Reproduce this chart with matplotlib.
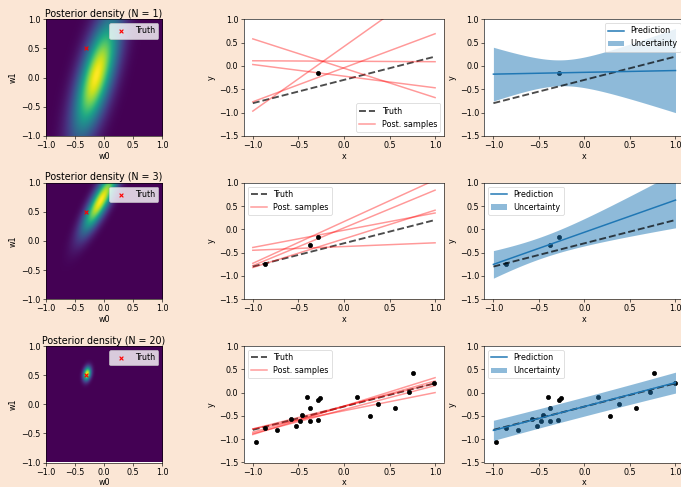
import numpy as np
import matplotlib.pyplot as plt

# model settings (prior precision, noise precision) and true weights
alpha = 2.0
beta = 25.0
w_true = [-0.3, 0.5]

# observed points, in the order they were added
x_data = [-0.28, -0.865, -0.378, -0.97, -0.73, -0.58, -0.525, -0.48, -0.46, -0.404,
          -0.375, -0.287, -0.26, 0.144, 0.283, 0.375, 0.561, 0.715, 0.762, 0.993]
t_data = [-0.16, -0.75, -0.335, -1.07, -0.81, -0.56, -0.71, -0.60, -0.49, -0.093,
          -0.62, -0.58, -0.11, -0.093, -0.50, -0.25, -0.32, 0.02, 0.43, 0.20]

n_obs = [1, 3, 20]

# posterior sample lines (intercept, slope)
sample_w0 = [
    [-0.05, 0.415, 0.10, -0.22, -0.04],
    [0.165, 0.03, -0.205, -0.02, -0.37],
    [-0.29, -0.30, -0.29, -0.365, -0.39],
]
sample_w1 = [
    [-0.63, 1.385, -0.01, -0.25, 0.73],
    [0.895, 0.81, 0.615, 0.37, 0.08],
    [0.61, 0.55, 0.49, 0.515, 0.39],
]

mid_legend_loc = ["lower right", "upper left", "upper left"]
right_legend_loc = ["upper right", "upper left", "upper left"]

W, H, DPI = 681, 487, 54
BG = "#fbe6d5"

plt.rcParams["font.size"] = 10.6
plt.rcParams["axes.titlesize"] = 12.7


def posterior(n):
    phi = np.column_stack([np.ones(n), np.array(x_data[:n])])
    t = np.array(t_data[:n])
    s_inv = alpha * np.eye(2) + beta * phi.T @ phi
    s = np.linalg.inv(s_inv)
    m = beta * s @ phi.T @ t
    return m, s


def rect(x, top, w, h):
    return [x / W, 1 - (top + h) / H, w / W, h / H]


fig = plt.figure(figsize=(W / DPI, H / DPI), dpi=DPI, facecolor=BG)

row_tops = [19.3, 182.7, 346.0]
hgt = 116.5
grid = np.linspace(-1, 1, 200)
g0, g1 = np.meshgrid(grid, grid)
xs = np.linspace(-1, 1, 100)

for i, n in enumerate(n_obs):
    top = row_tops[i]
    m, s = posterior(n)
    xd = x_data[:n]
    td = t_data[:n]

    # posterior density
    ax = fig.add_axes(rect(45.7, top, 116.5, hgt))
    d = np.stack([g0 - m[0], g1 - m[1]], axis=-1)
    s_inv = np.linalg.inv(s)
    dens = np.exp(-0.5 * np.einsum("...i,ij,...j->...", d, s_inv, d))
    dens /= 2 * np.pi * np.sqrt(np.linalg.det(s))
    ax.imshow(dens, origin="lower", extent=(-1, 1, -1, 1), cmap="viridis", aspect="auto")
    ax.scatter(w_true[0], w_true[1], c="r", marker="x", s=25, label="Truth")
    ax.set_xlim(-1, 1)
    ax.set_ylim(-1, 1)
    ax.set_xticks([-1, -0.5, 0, 0.5, 1])
    ax.set_yticks([-1, -0.5, 0, 0.5, 1])
    ax.set_xlabel("w0", labelpad=2)
    ax.set_ylabel("w1")
    ax.set_title(f"Posterior density (N = {n})", pad=3)
    ax.legend(loc="upper right")

    # posterior samples
    ax = fig.add_axes(rect(243.7, top, 200.5, hgt))
    ax.plot(xs, w_true[0] + w_true[1] * xs, "k--", alpha=0.7, lw=2.5, label="Truth")
    for j, (a, b) in enumerate(zip(sample_w0[i], sample_w1[i])):
        ax.plot(xs, a + b * xs, "r-", alpha=0.4, lw=2,
                label="Post. samples" if j == 0 else None)
    ax.scatter(xd, td, c="k", s=30, zorder=3)
    ax.set_ylim(-1.5, 1.0)
    ax.set_xlabel("x", labelpad=2)
    ax.set_ylabel("y")
    ax.legend(loc=mid_legend_loc[i])

    # predictive distribution
    ax = fig.add_axes(rect(484.3, top, 200.3, hgt))
    phi = np.column_stack([np.ones_like(xs), xs])
    mean = phi @ m
    std = np.sqrt(1 / beta + np.einsum("ij,jk,ik->i", phi, s, phi))
    ax.scatter(xd, td, c="k", s=30)
    ax.plot(xs, w_true[0] + w_true[1] * xs, "k--", alpha=0.7, lw=2.5)
    ax.plot(xs, mean, color="C0", lw=2, label="Prediction")
    ax.fill_between(xs, mean - std, mean + std, color="C0", alpha=0.5,
                    lw=0, label="Uncertainty")
    ax.set_ylim(-1.5, 1.0)
    ax.set_xlabel("x", labelpad=2)
    ax.set_ylabel("y")
    ax.legend(loc=right_legend_loc[i])

fig.savefig("out.png", dpi=DPI, facecolor=BG)
